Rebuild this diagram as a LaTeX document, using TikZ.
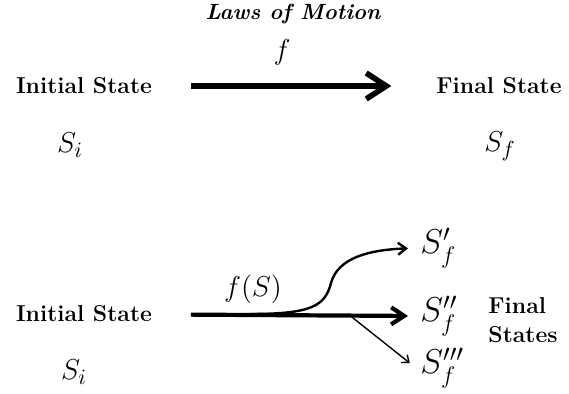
\documentclass[tikz,border=0pt]{standalone}
\usepackage{amsmath}
\usetikzlibrary{arrows.meta}

\begin{document}
\begin{tikzpicture}[x=0.5pt,y=-0.5pt,
    % Stilusok a szovegekhez es a nyilakhoz
    state/.style={font=\fontsize{11.5}{14.5}\selectfont\bfseries},
    sym/.style={font=\fontsize{15}{17}\selectfont},
    bigsym/.style={font=\fontsize{18}{20}\selectfont, anchor=west, inner sep=2pt},
    fat arrow/.style={line width=2.8pt, -{Straight Barb[length=10pt,width=13pt]}},
    main arrow/.style={line width=2.1pt, -{Straight Barb[length=6.5pt,width=8.5pt]}},
    branch arrow/.style={line width=1.2pt, -{Straight Barb[length=4pt,width=6pt]}},
    thin arrow/.style={line width=0.7pt, -{Straight Barb[length=3pt,width=5pt]}}
  ]
    \useasboundingbox (0,0) rectangle (569,394);

    % Felso sor: egyetlen vegallapot
    \node[state] (ini1) at (84,86) {Initial State};
    \node[state] (fin1) at (499,86) {Final State};
    \node[sym] (si1) at (70,145) {$S_i$};
    \node[sym] (sf1) at (500,146) {$S_f$};
    \node[font=\fontsize{11}{12}\selectfont\bfseries\itshape] (law) at (293,14) {Laws of Motion};
    \node[font=\fontsize{15.5}{17}\selectfont] (f1) at (282,52) {$f$};

    \draw[fat arrow, shorten <=16pt, shorten >=19pt] (ini1) -- (fin1);

    % Also sor: tobb lehetseges vegallapot
    \node[state] (ini2) at (84,314) {Initial State};
    \node[sym] (si2) at (74,372) {$S_i$};
    \node[font=\fontsize{14.5}{16}\selectfont] (fs) at (253,289) {$f(S)$};
    \node[bigsym] (sfa) at (416,248) {$S'_f$};
    \node[bigsym] (sfb) at (416,316) {$S''_f$};
    \node[bigsym] (sfc) at (416,368) {$S'''_f$};
    \node[state, align=left] (fins) at (523,320) {Final\\States};

    % Elagazasi pontok a fo nyilon
    \coordinate (br1) at (250,314);
    \coordinate (br2) at (348,314);

    \draw[main arrow, shorten <=16pt, shorten >=4pt] (ini2) -- (sfb.west);
    \draw[branch arrow, shorten >=4pt] (br1) .. controls (312,314) and (325,306) .. (331,283)
        .. controls (338,258) and (368,250) .. (sfa.west);
    \draw[thin arrow, shorten >=4pt] (br2) -- (sfc.west);
\end{tikzpicture}
\end{document}
